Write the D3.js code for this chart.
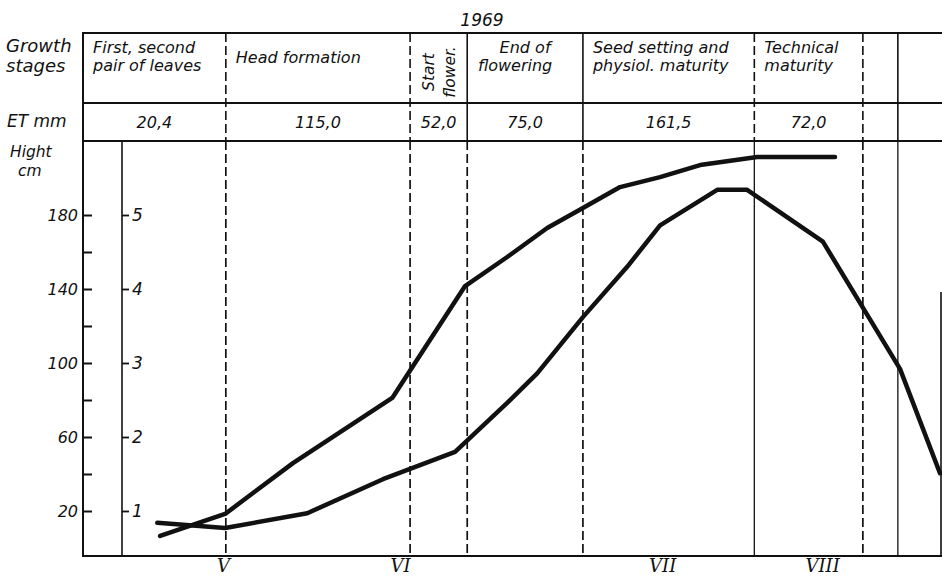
<!DOCTYPE html>
<html>
<head>
<meta charset="utf-8">
<script src="https://cdn.jsdelivr.net/npm/d3@7"></script>
<style>
  html, body { margin: 0; padding: 0; background: #fff; }
  svg { display: block; }
  text { font-family: "DejaVu Sans", sans-serif; font-style: italic; fill: #111; }
  .roman { font-family: "DejaVu Serif", serif; }
</style>
</head>
<body>
<svg id="chart" width="942" height="579"></svg>
<script>
// ---- data -------------------------------------------------------------
// Season runs along a day axis (0..120); stage boundaries are on that axis.
const stageNames = [
  ["First, second", "pair of leaves"],
  ["Head formation"],
  ["Start", "flower."],
  ["End of", "flowering"],
  ["Seed setting and", "physiol. maturity"],
  ["Technical", "maturity"]
];
const stageBounds = [0, 20.0, 45.8, 53.8, 70.0, 94.0, 109.2, 114.1, 120];
const etMm = [20.4, 115.0, 52.0, 75.0, 161.5, 72.0];

const months = ["V", "VI", "VII", "VIII"];
const monthDays = [19.6, 44.4, 81.1, 103.5];

const heightTicks = [20, 40, 60, 80, 100, 120, 140, 160, 180];
const heightLabels = [20, 60, 100, 140, 180];
const indexTicks = [1, 2, 3, 4, 5];

// plant height, cm
const heightDays = [10.8, 19.9, 29.4, 43.3, 53.5, 59.4, 65.0, 70.0, 75.2, 80.8, 86.4, 94.4, 105.3];
const heightCm   = [6.5, 18.4, 45.9, 81.1, 141.6, 157.3, 173.0, 183.8, 195.1, 200.5, 207.0, 211.4, 211.4];

// second curve on the 1–5 scale
const indexDays = [10.4, 19.9, 31.4, 42.0, 52.1, 59.4, 63.6, 70.0, 76.2, 80.8, 88.8, 93.0, 103.6, 114.4, 120.0];
const indexVal  = [0.84, 0.77, 0.97, 1.43, 1.80, 2.46, 2.86, 3.62, 4.30, 4.86, 5.34, 5.34, 4.64, 2.92, 1.51];

const yearLabel = "1969";

// ---- layout -------------------------------------------------------------
const svg = d3.select("#chart");
const frameL = 83, frameR = 940, frameT = 33, rowMid = 103, rowBottom = 141, baseY = 556;
const innerAxisX = 122;

const x = d3.scaleLinear().domain([0, 120]).range([frameL, frameR]);
const yCm = d3.scaleLinear().domain([20, 180]).range([511, 215]);
const yIdx = d3.scaleLinear().domain([1, 5]).range([511, 215]);

const ink = "#111";

// frame: horizontal rules
[[frameT, 2], [rowMid, 1.8], [rowBottom, 1.8], [baseY, 2]].forEach(([y, w]) => {
  svg.append("line")
    .attr("x1", frameL).attr("x2", 942).attr("y1", y).attr("y2", y)
    .attr("stroke", ink).attr("stroke-width", w);
});
// left border and right edge
svg.append("line").attr("x1", frameL).attr("x2", frameL).attr("y1", frameT - 1).attr("y2", baseY + 1)
  .attr("stroke", ink).attr("stroke-width", 2);
svg.append("line").attr("x1", 941).attr("x2", 941).attr("y1", 292).attr("y2", baseY + 1)
  .attr("stroke", ink).attr("stroke-width", 1.6);

// stage boundaries: header part and plot part drawn with their own line style
const headerDashed = [true, true, false, false, true, true, false];
const plotDashed   = [true, true, true, true, false, true, false];
stageBounds.slice(1, -1).forEach((d, i) => {
  svg.append("line")
    .attr("x1", x(d)).attr("x2", x(d)).attr("y1", frameT).attr("y2", rowBottom)
    .attr("stroke", ink).attr("stroke-width", 1.6)
    .attr("stroke-dasharray", headerDashed[i] ? "9,4" : null);
  svg.append("line")
    .attr("x1", x(d)).attr("x2", x(d)).attr("y1", rowBottom).attr("y2", baseY)
    .attr("stroke", ink).attr("stroke-width", plotDashed[i] ? 1.7 : 1.3)
    .attr("stroke-dasharray", plotDashed[i] ? "9,4" : null);
});

// stage names
const nameAnchor = ["start", "start", "rotate", "middle", "start", "start"];
stageNames.forEach((lines, i) => {
  const x0 = x(stageBounds[i]), x1 = x(stageBounds[i + 1]);
  if (nameAnchor[i] === "rotate") {
    lines.forEach((t, k) => {
      const cx = x0 + 24 + k * 21;
      svg.append("text")
        .attr("transform", `translate(${cx},72) rotate(-90)`)
        .attr("text-anchor", "middle")
        .attr("font-size", 15.5)
        .text(t);
    });
    return;
  }
  const single = lines.length === 1;
  lines.forEach((t, k) => {
    const y = single ? 63 : 53 + k * 18;
    const tx = nameAnchor[i] === "middle" ? (x0 + x1) / 2 + (k === 0 ? 0 : -10) : x0 + 10;
    svg.append("text")
      .attr("x", tx).attr("y", y)
      .attr("text-anchor", nameAnchor[i])
      .attr("font-size", 16)
      .text(t);
  });
});

// ET values per stage
const fmtEt = d => d3.format(".1f")(d).replace(".", ",");
etMm.forEach((v, i) => {
  svg.append("text")
    .attr("x", (x(stageBounds[i]) + x(stageBounds[i + 1])) / 2)
    .attr("y", 128)
    .attr("text-anchor", "middle")
    .attr("font-size", 16)
    .text(fmtEt(v));
});

// row titles
svg.append("text").attr("x", 6).attr("y", 52).attr("font-size", 18).text("Growth");
svg.append("text").attr("x", 6).attr("y", 72).attr("font-size", 18).text("stages");
svg.append("text").attr("x", 7).attr("y", 127).attr("font-size", 17).text("ET mm");
svg.append("text").attr("x", 10).attr("y", 157).attr("font-size", 15.5).text("Hight");
svg.append("text").attr("x", 18).attr("y", 176).attr("font-size", 15.5).text("cm");
svg.append("text").attr("x", 482).attr("y", 26).attr("text-anchor", "middle")
  .attr("font-size", 17).text(yearLabel);

// height axis on the left border (ticks point inwards)
const axisCm = d3.axisLeft(yCm)
  .tickValues(heightTicks)
  .tickSize(-9)
  .tickPadding(5)
  .tickFormat(d => heightLabels.includes(d) ? d : "");
const gCm = svg.append("g").attr("transform", `translate(${frameL},0)`).call(axisCm);
gCm.select(".domain").remove();
gCm.selectAll(".tick line").attr("stroke", ink).attr("stroke-width", 2);
gCm.selectAll(".tick text").attr("font-size", 16).attr("font-family", null).attr("fill", ink);

// inner 1–5 axis
svg.append("line").attr("x1", innerAxisX).attr("x2", innerAxisX)
  .attr("y1", rowBottom).attr("y2", baseY)
  .attr("stroke", ink).attr("stroke-width", 1.6);
const axisIdx = d3.axisRight(yIdx)
  .tickValues(indexTicks)
  .tickSize(7)
  .tickPadding(3)
  .tickFormat(d3.format("d"));
const gIdx = svg.append("g").attr("transform", `translate(${innerAxisX},0)`).call(axisIdx);
gIdx.select(".domain").remove();
gIdx.selectAll(".tick line").attr("stroke", ink).attr("stroke-width", 1.8);
gIdx.selectAll(".tick text").attr("font-size", 17).attr("font-family", null).attr("fill", ink);

// month labels under the base line
const axisMonth = d3.axisBottom(x)
  .tickValues(monthDays)
  .tickSize(0)
  .tickPadding(3)
  .tickFormat((d, i) => months[i]);
const gM = svg.append("g").attr("transform", `translate(0,${baseY})`).call(axisMonth);
gM.select(".domain").remove();
gM.selectAll(".tick text")
  .attr("class", "roman")
  .attr("font-size", 18)
  .attr("font-family", null)
  .attr("fill", ink);

// curves
const lineCm = d3.line().x(d => x(d[0])).y(d => yCm(d[1]));
const lineIdx = d3.line().x(d => x(d[0])).y(d => yIdx(d[1]));

svg.append("path")
  .datum(heightDays.map((d, i) => [d, heightCm[i]]))
  .attr("d", lineCm)
  .attr("fill", "none").attr("stroke", ink).attr("stroke-width", 4.5)
  .attr("stroke-linejoin", "round").attr("stroke-linecap", "round");

svg.append("path")
  .datum(indexDays.map((d, i) => [d, indexVal[i]]))
  .attr("d", lineIdx)
  .attr("fill", "none").attr("stroke", ink).attr("stroke-width", 4.5)
  .attr("stroke-linejoin", "round").attr("stroke-linecap", "round");
</script>
</body>
</html>
